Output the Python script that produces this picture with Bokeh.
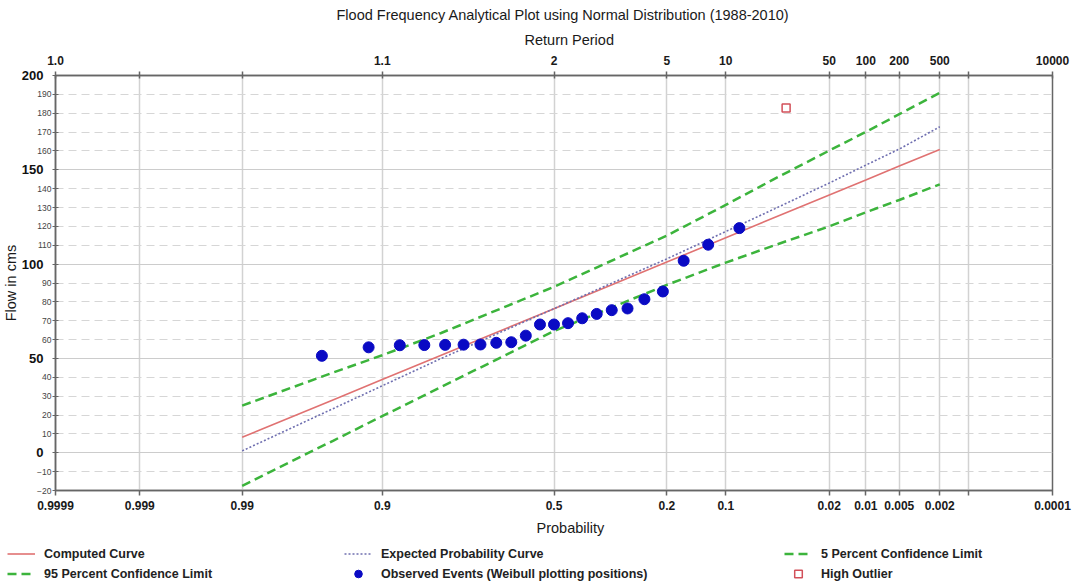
from statistics import NormalDist

from bokeh.embed import file_html
from bokeh.layouts import column
from bokeh.models import (FixedTicker, Grid, Legend, LegendItem, LinearAxis,
                          Range1d, Title)
from bokeh.plotting import figure
from bokeh.resources import INLINE

# ---- fitted curves (flow in cms at each exceedance probability) ----
curve_prob = [0.99, 0.95, 0.9, 0.8, 0.5, 0.2, 0.1, 0.05, 0.02, 0.01, 0.005, 0.002]
computed_flow = [8.2, 28.1, 38.8, 51.7, 76.4, 101.1, 114.0, 124.7, 136.7, 144.6, 152.0, 160.8]
expected_flow = [1.0, 23.5, 35.5, 50.0, 76.4, 102.8, 117.3, 129.3, 143.0, 152.5, 161.0, 172.8]
limit_5pct = [25.0, 42.6, 51.7, 63.5, 88.0, 115.1, 131.4, 145.2, 160.2, 170.1, 179.5, 190.8]
limit_95pct = [-17.5, 6.5, 19.4, 34.9, 64.5, 89.0, 100.8, 110.0, 120.0, 127.5, 134.0, 142.3]

# ---- annual peak flows 1988-2010, ranked largest first ----
annual_peaks = [182.8, 119.1, 110.3, 101.8, 85.5, 81.4, 76.5, 75.6, 73.6, 71.3,
                68.7, 68.0, 68.0, 62.1, 58.6, 58.3, 57.4, 57.3, 57.2, 57.1,
                57.0, 55.9, 51.4]
n_high_outliers = 1

# ---- axis ticks ----
prob_ticks = [0.9999, 0.999, 0.99, 0.9, 0.5, 0.2, 0.1, 0.02, 0.01, 0.005, 0.002, 0.001, 0.0001]
prob_labels = ["0.9999", "0.999", "0.99", "0.9", "0.5", "0.2", "0.1", "0.02",
               "0.01", "0.005", "0.002", "", "0.0001"]
return_labels = ["1.0", "", "", "1.1", "2", "5", "10", "50", "100", "200", "500", "", "10000"]
flow_major = [0, 50, 100, 150, 200]
flow_minor = [-20, -10, 10, 20, 30, 40, 60, 70, 80, 90, 110, 120, 130, 140,
              160, 170, 180, 190]

FONT = "Liberation Sans"
AXIS_GREY = "#666666"
TEXT = "#1a1a1a"
_nd = NormalDist()


def zpos(p):
    """Normal-probability paper position for an exceedance probability."""
    return round(_nd.inv_cdf(1.0 - p), 6)


x_curve = [zpos(p) for p in curve_prob]
n = len(annual_peaks)
weibull = [(i + 1) / (n + 1) for i in range(n)]
x_obs = [zpos(p) for p in weibull]

x_ticks = [zpos(p) for p in prob_ticks]
xmin, xmax = x_ticks[0], x_ticks[-1]

p = figure(width=1074, height=544, output_backend="svg", toolbar_location=None,
           x_range=Range1d(xmin, xmax), y_range=Range1d(-20, 200),
           min_border_left=54, min_border_right=22, min_border_top=75,
           min_border_bottom=54, background_fill_color="white",
           border_fill_color="white", outline_line_color=AXIS_GREY,
           outline_line_width=1.5)


def heading(text, align="center", offset=0, standoff=4):
    return Title(text=text, align=align, offset=offset, standoff=standoff,
                 text_font=FONT, text_font_size="14.5px",
                 text_font_style="normal", text_color=TEXT)


p.title = heading("Flood Frequency Analytical Plot using Normal Distribution (1988-2010)",
                  align="left", offset=281, standoff=3)

# ---- grids ----
p.xgrid.ticker = FixedTicker(ticks=x_ticks[1:-1])
p.xgrid.grid_line_color = "#d2d2d2"
p.xgrid.grid_line_width = 1.5
p.ygrid.ticker = FixedTicker(ticks=[v for v in flow_minor if v > -20])
p.ygrid.grid_line_color = "#d6d6d6"
p.ygrid.grid_line_width = 1.2
p.ygrid.grid_line_dash = "8 5"
p.add_layout(Grid(dimension=1, ticker=FixedTicker(ticks=flow_major[:-1]),
                  grid_line_color="#cccccc", grid_line_width=1.2), "center")


def style_axis(ax, size="12px", bold=True):
    ax.axis_line_color = AXIS_GREY
    ax.axis_line_width = 1.5
    ax.major_tick_line_color = AXIS_GREY
    ax.major_tick_line_width = 1.5
    ax.minor_tick_line_color = None
    ax.major_label_text_font = FONT
    ax.major_label_text_font_style = "bold" if bold else "normal"
    ax.major_label_text_font_size = size
    ax.major_label_text_color = TEXT


# probability axis (bottom)
xb = p.xaxis[0]
style_axis(xb)
xb.ticker = FixedTicker(ticks=x_ticks)
xb.major_label_overrides = dict(zip(x_ticks, prob_labels))
xb.major_tick_in = 0
xb.major_tick_out = 5
xb.major_label_standoff = 5
p.add_layout(heading("Probability", align="left", offset=481, standoff=10), "below")

# return period axis (top)
xt = LinearAxis(ticker=FixedTicker(ticks=x_ticks),
                major_label_overrides=dict(zip(x_ticks, return_labels)),
                major_tick_in=3, major_tick_out=4, major_label_standoff=7)
style_axis(xt)
p.add_layout(xt, "above")
p.add_layout(heading("Return Period", align="left", offset=469, standoff=10), "above")

# flow axis: small labels every 10 next to the frame
yl = p.yaxis[0]
style_axis(yl, size="8.5px", bold=False)
yl.major_label_text_color = "#444444"
yl.ticker = FixedTicker(ticks=sorted(flow_minor + flow_major))
yl.major_label_overrides = {v: "" for v in flow_major}
yl.major_tick_in = 3
yl.major_tick_out = 3
yl.major_tick_line_width = 1
yl.major_label_standoff = 1

# flow axis: large labels every 50, pulled in over the small ones
ym = LinearAxis(ticker=FixedTicker(ticks=flow_major), major_tick_in=0,
                major_tick_out=0, major_label_standoff=-9)
style_axis(ym, size="13px", bold=True)
ym.axis_line_color = None
ym.major_tick_line_color = None
ym.major_label_text_color = "#111111"
p.add_layout(ym, "left")
p.add_layout(heading("Flow in cms", standoff=0), "left")

# ---- data ----
LINE_STYLES = dict(
    computed=dict(line_color="#e07272", line_width=1.6),
    expected=dict(line_color="#6f6fb0", line_width=1.6, line_dash="2 2"),
    limit=dict(line_color="#3cb43c", line_width=2.5, line_dash="9 5"),
)
OBS_STYLE = dict(marker="circle", fill_color="#0a0ac4", line_color="#0a0ac4")
OUT_STYLE = dict(marker="square", fill_color=None, line_color="#d2505a",
                 line_width=1.5)

p.line(x_curve, computed_flow, **LINE_STYLES["computed"])
p.line(x_curve, expected_flow, **LINE_STYLES["expected"])
p.line(x_curve, limit_5pct, **LINE_STYLES["limit"])
p.line(x_curve, limit_95pct, **LINE_STYLES["limit"])
p.scatter(x_obs[n_high_outliers:], annual_peaks[n_high_outliers:], size=11,
          **OBS_STYLE)
p.scatter(x_obs[:n_high_outliers], annual_peaks[:n_high_outliers], size=8,
          **OUT_STYLE)

# ---- legend strip under the chart ----
# the key renderers sit outside this strip's view; only their legend swatches show
lg = figure(width=1074, height=39, output_backend="svg", toolbar_location=None,
            x_range=Range1d(0, 1), y_range=Range1d(0, 1),
            min_border_left=0, min_border_right=0, min_border_top=0,
            min_border_bottom=0, outline_line_color=None,
            x_axis_location=None, y_axis_location=None,
            background_fill_color="white", border_fill_color="white")
lg.frame_align = False
lg.xgrid.visible = False
lg.ygrid.visible = False

off = [5, 6]
k_comp = lg.line(off, off, **LINE_STYLES["computed"])
k_exp = lg.line(off, off, **LINE_STYLES["expected"])
k_lim = lg.line(off, off, **LINE_STYLES["limit"])
k_obs = lg.scatter(off[:1], off[:1], size=11, **OBS_STYLE)
k_out = lg.scatter(off[:1], off[:1], size=8, **OUT_STYLE)

legend_cols = [
    (7, [("Computed Curve", k_comp), ("95 Percent Confidence Limit", k_lim)]),
    (344, [("Expected Probability Curve", k_exp),
           ("Observed Events (Weibull plotting positions)", k_obs)]),
    (784, [("5 Percent Confidence Limit", k_lim), ("High Outlier", k_out)]),
]
for xloc, entries in legend_cols:
    leg = Legend(items=[LegendItem(label=t, renderers=[r]) for t, r in entries],
                 location=(xloc, 0), padding=0, margin=0, spacing=1,
                 glyph_width=28, glyph_height=19, label_height=19,
                 label_standoff=9, border_line_alpha=0,
                 background_fill_alpha=0, label_text_font=FONT,
                 label_text_font_style="bold", label_text_font_size="12.5px",
                 label_text_color="#222222")
    lg.add_layout(leg, "center")

page = column(p, lg, spacing=0)
open("out.html", "w").write(file_html(page, INLINE))
